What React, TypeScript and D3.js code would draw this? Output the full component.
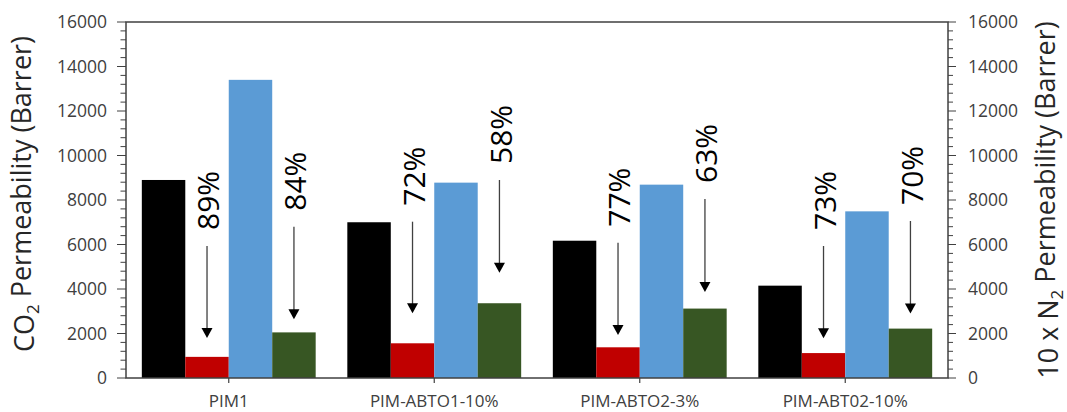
import React from "react";
import * as d3 from "d3";

const categories = ["PIM1", "PIM-ABTO1-10%", "PIM-ABTO2-3%", "PIM-ABT02-10%"];
const seriesNames = ["CO2 fresh", "CO2 aged", "10xN2 fresh", "10xN2 aged"];
const seriesColors = ["#000000", "#c00000", "#5b9bd5", "#375623"];
const co2Fresh = [8900, 7000, 6170, 4150];
const co2Aged = [950, 1560, 1380, 1120];
const n2Fresh = [13400, 8780, 8690, 7490];
const n2Aged = [2050, 3360, 3120, 2220];
const yTicks = [0, 2000, 4000, 6000, 8000, 10000, 12000, 14000, 16000];

// annotation: percent drops; arrows go over aged bars (series index 1 and 3)
const co2Drop = ["89%", "72%", "77%", "73%"];
const n2Drop = ["84%", "58%", "63%", "70%"];
const co2ArrowTop = [5933, 7025, 6081, 5933];
const co2ArrowTip = [1798, 2908, 1933, 1784];
const n2ArrowTop = [6800, 8899, 8045, 7056];
const n2ArrowTip = [2638, 4733, 3865, 2899];

const W = 1067, H = 412;
const L = 126, R = 948, T = 22, B = 378;
const FONT = "'Open Sans', 'DejaVu Sans', sans-serif";

export default function App() {
  const values = [co2Fresh, co2Aged, n2Fresh, n2Aged];
  const x0 = d3.scaleBand<string>().domain(categories).range([L, R]).paddingInner(0.154).paddingOuter(0.077);
  const x1 = d3.scaleBand<string>().domain(seriesNames).range([0, x0.bandwidth()]);
  const y = d3.scaleLinear().domain([0, 16000]).range([B, T]);
  const minor = d3.range(0, 16001, 400);

  const annotations: { x: number; top: number; tip: number; label: string }[] = [];
  categories.forEach((c, i) => {
    annotations.push({ x: (x0(c) as number) + (x1(seriesNames[1]) as number) + x1.bandwidth() / 2, top: co2ArrowTop[i], tip: co2ArrowTip[i], label: co2Drop[i] });
    annotations.push({ x: (x0(c) as number) + (x1(seriesNames[3]) as number) + x1.bandwidth() / 2, top: n2ArrowTop[i], tip: n2ArrowTip[i], label: n2Drop[i] });
  });

  const axisColor = "#404040";
  const labelColor = "#404040";

  return (
    <svg width={W} height={H} style={{ position: "absolute", left: 0, top: 0 }} fontFamily={FONT}>
      <rect x={0} y={0} width={W} height={H} fill="#fff" />
      {/* bars */}
      {categories.map((c, i) => (
        <g key={c} transform={`translate(${x0(c)},0)`}>
          {seriesNames.map((s, j) => (
            <rect key={s} x={x1(s)} y={y(values[j][i])} width={x1.bandwidth()} height={B - y(values[j][i])} fill={seriesColors[j]} />
          ))}
        </g>
      ))}
      {/* frame */}
      <rect x={L} y={T} width={R - L} height={B - T} fill="none" stroke={axisColor} strokeWidth={1.5} />
      {/* left ticks */}
      {minor.map((v) => (
        <line key={"lm" + v} x1={L - (v % 2000 === 0 ? 9 : 5.5)} x2={L} y1={y(v)} y2={y(v)} stroke={axisColor} strokeWidth={1} />
      ))}
      {minor.map((v) => (
        <line key={"rm" + v} x1={R} x2={R + (v % 2000 === 0 ? 8 : 5)} y1={y(v)} y2={y(v)} stroke={axisColor} strokeWidth={1} />
      ))}
      {yTicks.map((v) => (
        <text key={"lt" + v} x={107} y={y(v)} dy="0.36em" textAnchor="end" fontSize={17.5} fill={labelColor}>{v}</text>
      ))}
      {yTicks.map((v) => (
        <text key={"rt" + v} x={968} y={y(v)} dy="0.36em" textAnchor="start" fontSize={17.5} fill={labelColor}>{v}</text>
      ))}
      {/* category ticks and labels */}
      {categories.map((c) => {
        const cx = (x0(c) as number) + x0.bandwidth() / 2;
        return (
          <g key={"c" + c}>
            <line x1={cx} x2={cx} y1={B} y2={B + 5} stroke={axisColor} strokeWidth={1.2} />
            <text x={cx} y={407} textAnchor="middle" fontSize={17} fill={labelColor}>{c}</text>
          </g>
        );
      })}
      {/* axis titles */}
      <text transform={`translate(34,194) rotate(-90)`} textAnchor="middle" fontSize={27} fill="#262626">
        CO<tspan fontSize={17} dy="0.3em">2</tspan><tspan dy="-0.3em"> Permeability (Barrer)</tspan>
      </text>
      <text transform={`translate(1058,200) rotate(-90)`} textAnchor="middle" fontSize={27} fill="#262626">
        10 x N<tspan fontSize={17} dy="0.3em">2</tspan><tspan dy="-0.3em"> Permeability (Barrer)</tspan>
      </text>
      {/* annotations */}
      {annotations.map((a, k) => {
        const yt = y(a.top);
        const yp = y(a.tip);
        return (
          <g key={"a" + k}>
            <line x1={a.x} x2={a.x} y1={yt} y2={yp - 8} stroke="#404040" strokeWidth={1.3} />
            <path d={`M${a.x - 5.5},${yp - 10}L${a.x + 5.5},${yp - 10}L${a.x},${yp}Z`} fill="#000" />
            <text transform={`translate(${a.x + 1.5},${yt - 16}) rotate(-90)`} dy="0.36em" textAnchor="start" fontSize={30} fill="#000">{a.label}</text>
          </g>
        );
      })}
    </svg>
  );
}
